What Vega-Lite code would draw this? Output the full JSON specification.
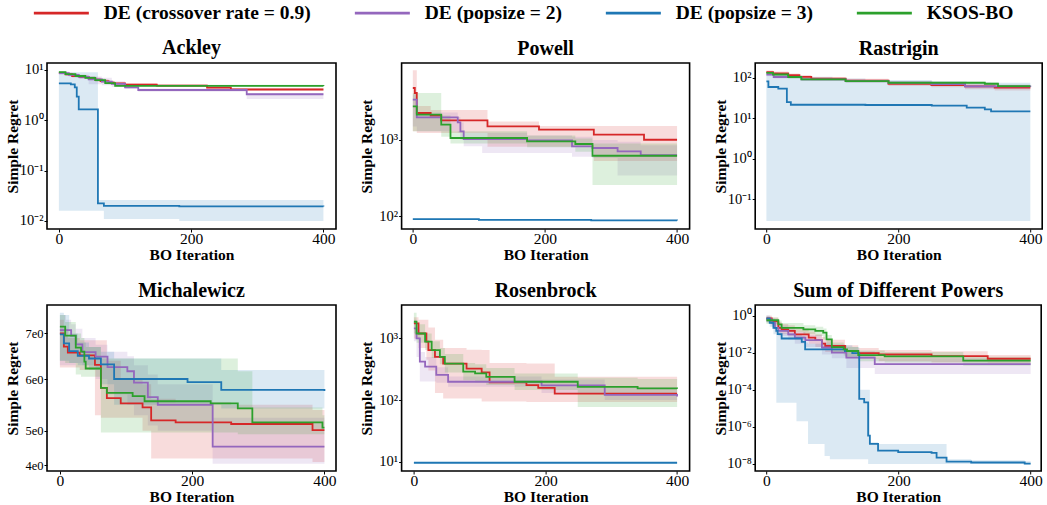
{
"$schema": "https://vega.github.io/schema/vega-lite/v6.json",
"padding": {"left": 4, "top": 3, "right": 2, "bottom": 2},
"background": "white",
"datasets": {
"runs": [
{"f":"Ackley","s":"DE (crossover rate = 0.9)","x":0,"y":8.7,"lo":8.2,"hi":9.2},
{"f":"Ackley","s":"DE (crossover rate = 0.9)","x":10,"y":8.2,"lo":7.7,"hi":8.8},
{"f":"Ackley","s":"DE (crossover rate = 0.9)","x":20,"y":7.6,"lo":7.1,"hi":8.2},
{"f":"Ackley","s":"DE (crossover rate = 0.9)","x":32,"y":7.26,"lo":6.8,"hi":7.9},
{"f":"Ackley","s":"DE (crossover rate = 0.9)","x":45,"y":6.8,"lo":6.3,"hi":7.5},
{"f":"Ackley","s":"DE (crossover rate = 0.9)","x":55,"y":6.4,"lo":5.9,"hi":7.1},
{"f":"Ackley","s":"DE (crossover rate = 0.9)","x":63,"y":6.0,"lo":5.5,"hi":6.6},
{"f":"Ackley","s":"DE (crossover rate = 0.9)","x":75,"y":5.6,"lo":5.2,"hi":6.1},
{"f":"Ackley","s":"DE (crossover rate = 0.9)","x":83,"y":5.4,"lo":5.0,"hi":5.8},
{"f":"Ackley","s":"DE (crossover rate = 0.9)","x":100,"y":5.1,"lo":4.8,"hi":5.5},
{"f":"Ackley","s":"DE (crossover rate = 0.9)","x":148,"y":4.9,"lo":4.6,"hi":5.2},
{"f":"Ackley","s":"DE (crossover rate = 0.9)","x":224,"y":4.45,"lo":4.2,"hi":4.8},
{"f":"Ackley","s":"DE (crossover rate = 0.9)","x":260,"y":4.1,"lo":3.9,"hi":4.4},
{"f":"Ackley","s":"DE (crossover rate = 0.9)","x":400,"y":4.1,"lo":3.9,"hi":4.4},
{"f":"Ackley","s":"DE (popsize = 2)","x":0,"y":8.7,"lo":8.0,"hi":9.3},
{"f":"Ackley","s":"DE (popsize = 2)","x":15,"y":8.0,"lo":7.3,"hi":8.6},
{"f":"Ackley","s":"DE (popsize = 2)","x":30,"y":7.3,"lo":6.6,"hi":8.0},
{"f":"Ackley","s":"DE (popsize = 2)","x":45,"y":6.5,"lo":5.2,"hi":7.4},
{"f":"Ackley","s":"DE (popsize = 2)","x":65,"y":5.9,"lo":5.0,"hi":7.0},
{"f":"Ackley","s":"DE (popsize = 2)","x":80,"y":5.3,"lo":4.6,"hi":6.0},
{"f":"Ackley","s":"DE (popsize = 2)","x":100,"y":4.5,"lo":4.2,"hi":5.0},
{"f":"Ackley","s":"DE (popsize = 2)","x":120,"y":4.0,"lo":3.7,"hi":4.3},
{"f":"Ackley","s":"DE (popsize = 2)","x":284,"y":3.3,"lo":2.65,"hi":3.5},
{"f":"Ackley","s":"DE (popsize = 2)","x":400,"y":3.3,"lo":2.65,"hi":3.5},
{"f":"Ackley","s":"DE (popsize = 3)","x":0,"y":5.4,"lo":0.016,"hi":9.0},
{"f":"Ackley","s":"DE (popsize = 3)","x":18,"y":5.2,"lo":0.016,"hi":9.0},
{"f":"Ackley","s":"DE (popsize = 3)","x":24,"y":4.5,"lo":0.016,"hi":9.0},
{"f":"Ackley","s":"DE (popsize = 3)","x":27,"y":2.95,"lo":0.016,"hi":9.0},
{"f":"Ackley","s":"DE (popsize = 3)","x":30,"y":1.65,"lo":0.016,"hi":9.0},
{"f":"Ackley","s":"DE (popsize = 3)","x":59,"y":0.0224,"lo":0.016,"hi":0.026},
{"f":"Ackley","s":"DE (popsize = 3)","x":68,"y":0.0199,"lo":0.011,"hi":0.026},
{"f":"Ackley","s":"DE (popsize = 3)","x":182,"y":0.0195,"lo":0.01,"hi":0.026},
{"f":"Ackley","s":"DE (popsize = 3)","x":400,"y":0.0193,"lo":0.01,"hi":0.026},
{"f":"Ackley","s":"KSOS-BO","x":0,"y":9.1,"lo":8.6,"hi":9.6},
{"f":"Ackley","s":"KSOS-BO","x":10,"y":8.3,"lo":7.9,"hi":8.8},
{"f":"Ackley","s":"KSOS-BO","x":25,"y":7.6,"lo":7.2,"hi":8.0},
{"f":"Ackley","s":"KSOS-BO","x":40,"y":7.0,"lo":6.6,"hi":7.4},
{"f":"Ackley","s":"KSOS-BO","x":55,"y":6.3,"lo":5.9,"hi":6.8},
{"f":"Ackley","s":"KSOS-BO","x":70,"y":5.5,"lo":5.2,"hi":5.9},
{"f":"Ackley","s":"KSOS-BO","x":85,"y":4.85,"lo":4.65,"hi":5.1},
{"f":"Ackley","s":"KSOS-BO","x":400,"y":4.8,"lo":4.6,"hi":5.0},

{"f":"Powell","s":"DE (crossover rate = 0.9)","x":0,"y":4830,"lo":1300,"hi":8260},
{"f":"Powell","s":"DE (crossover rate = 0.9)","x":3,"y":4150,"lo":1300,"hi":8260},
{"f":"Powell","s":"DE (crossover rate = 0.9)","x":6,"y":2265,"lo":1235,"hi":2800},
{"f":"Powell","s":"DE (crossover rate = 0.9)","x":27,"y":2090,"lo":1235,"hi":2485},
{"f":"Powell","s":"DE (crossover rate = 0.9)","x":43,"y":1815,"lo":1235,"hi":2485},
{"f":"Powell","s":"DE (crossover rate = 0.9)","x":113,"y":1514,"lo":815,"hi":1750},
{"f":"Powell","s":"DE (crossover rate = 0.9)","x":191,"y":1367,"lo":815,"hi":1528},
{"f":"Powell","s":"DE (crossover rate = 0.9)","x":274,"y":1175,"lo":530,"hi":1528},
{"f":"Powell","s":"DE (crossover rate = 0.9)","x":350,"y":1008,"lo":530,"hi":1528},
{"f":"Powell","s":"DE (crossover rate = 0.9)","x":400,"y":1008,"lo":530,"hi":1528},
{"f":"Powell","s":"DE (popsize = 2)","x":0,"y":3390,"lo":1500,"hi":4000},
{"f":"Powell","s":"DE (popsize = 2)","x":6,"y":1990,"lo":1300,"hi":2300},
{"f":"Powell","s":"DE (popsize = 2)","x":68,"y":1710,"lo":1250,"hi":2000},
{"f":"Powell","s":"DE (popsize = 2)","x":72,"y":1300,"lo":1000,"hi":1700},
{"f":"Powell","s":"DE (popsize = 2)","x":77,"y":1030,"lo":830,"hi":1250},
{"f":"Powell","s":"DE (popsize = 2)","x":105,"y":1030,"lo":675,"hi":1250},
{"f":"Powell","s":"DE (popsize = 2)","x":173,"y":990,"lo":675,"hi":1150},
{"f":"Powell","s":"DE (popsize = 2)","x":241,"y":826,"lo":600,"hi":1100},
{"f":"Powell","s":"DE (popsize = 2)","x":272,"y":785,"lo":580,"hi":1000},
{"f":"Powell","s":"DE (popsize = 2)","x":310,"y":710,"lo":340,"hi":950},
{"f":"Powell","s":"DE (popsize = 2)","x":345,"y":630,"lo":340,"hi":850},
{"f":"Powell","s":"DE (popsize = 2)","x":400,"y":630,"lo":340,"hi":850},
{"f":"Powell","s":"DE (popsize = 3)","x":0,"y":91,"lo":89,"hi":93},
{"f":"Powell","s":"DE (popsize = 3)","x":100,"y":89,"lo":87,"hi":91},
{"f":"Powell","s":"DE (popsize = 3)","x":270,"y":87.5,"lo":86,"hi":89},
{"f":"Powell","s":"DE (popsize = 3)","x":400,"y":87,"lo":85.5,"hi":88.5},
{"f":"Powell","s":"KSOS-BO","x":0,"y":2775,"lo":1300,"hi":4150},
{"f":"Powell","s":"KSOS-BO","x":6,"y":2155,"lo":1300,"hi":4150},
{"f":"Powell","s":"KSOS-BO","x":43,"y":1590,"lo":1100,"hi":2100},
{"f":"Powell","s":"KSOS-BO","x":57,"y":1062,"lo":900,"hi":1300},
{"f":"Powell","s":"KSOS-BO","x":173,"y":961,"lo":800,"hi":1150},
{"f":"Powell","s":"KSOS-BO","x":246,"y":886,"lo":700,"hi":1050},
{"f":"Powell","s":"KSOS-BO","x":272,"y":621,"lo":255,"hi":900},
{"f":"Powell","s":"KSOS-BO","x":400,"y":621,"lo":255,"hi":900},

{"f":"Rastrigin","s":"DE (crossover rate = 0.9)","x":0,"y":138,"lo":125,"hi":150},
{"f":"Rastrigin","s":"DE (crossover rate = 0.9)","x":10,"y":128,"lo":115,"hi":142},
{"f":"Rastrigin","s":"DE (crossover rate = 0.9)","x":33,"y":115,"lo":103,"hi":127},
{"f":"Rastrigin","s":"DE (crossover rate = 0.9)","x":50,"y":105,"lo":95,"hi":116},
{"f":"Rastrigin","s":"DE (crossover rate = 0.9)","x":68,"y":94.5,"lo":86,"hi":104},
{"f":"Rastrigin","s":"DE (crossover rate = 0.9)","x":120,"y":85,"lo":76,"hi":94},
{"f":"Rastrigin","s":"DE (crossover rate = 0.9)","x":185,"y":71,"lo":62,"hi":80},
{"f":"Rastrigin","s":"DE (crossover rate = 0.9)","x":250,"y":66,"lo":58,"hi":74},
{"f":"Rastrigin","s":"DE (crossover rate = 0.9)","x":301,"y":61,"lo":52,"hi":70},
{"f":"Rastrigin","s":"DE (crossover rate = 0.9)","x":346,"y":56.6,"lo":48,"hi":64},
{"f":"Rastrigin","s":"DE (crossover rate = 0.9)","x":400,"y":56.6,"lo":48,"hi":64},
{"f":"Rastrigin","s":"DE (popsize = 2)","x":0,"y":118.7,"lo":108,"hi":130},
{"f":"Rastrigin","s":"DE (popsize = 2)","x":11,"y":104,"lo":95,"hi":115},
{"f":"Rastrigin","s":"DE (popsize = 2)","x":53,"y":91,"lo":84,"hi":99},
{"f":"Rastrigin","s":"DE (popsize = 2)","x":120,"y":82,"lo":75,"hi":90},
{"f":"Rastrigin","s":"DE (popsize = 2)","x":185,"y":75,"lo":69,"hi":82},
{"f":"Rastrigin","s":"DE (popsize = 2)","x":250,"y":70,"lo":64,"hi":77},
{"f":"Rastrigin","s":"DE (popsize = 2)","x":301,"y":61,"lo":55,"hi":67},
{"f":"Rastrigin","s":"DE (popsize = 2)","x":400,"y":59,"lo":53,"hi":65},
{"f":"Rastrigin","s":"DE (popsize = 3)","x":0,"y":81.5,"lo":0.029,"hi":140},
{"f":"Rastrigin","s":"DE (popsize = 3)","x":3,"y":59,"lo":0.029,"hi":135},
{"f":"Rastrigin","s":"DE (popsize = 3)","x":18,"y":53.5,"lo":0.029,"hi":120},
{"f":"Rastrigin","s":"DE (popsize = 3)","x":31,"y":25,"lo":0.029,"hi":110},
{"f":"Rastrigin","s":"DE (popsize = 3)","x":37,"y":21.5,"lo":0.029,"hi":105},
{"f":"Rastrigin","s":"DE (popsize = 3)","x":100,"y":21.5,"lo":0.029,"hi":95},
{"f":"Rastrigin","s":"DE (popsize = 3)","x":150,"y":21.2,"lo":0.029,"hi":88},
{"f":"Rastrigin","s":"DE (popsize = 3)","x":250.6,"y":20.4,"lo":0.029,"hi":82},
{"f":"Rastrigin","s":"DE (popsize = 3)","x":303.6,"y":18.2,"lo":0.029,"hi":78},
{"f":"Rastrigin","s":"DE (popsize = 3)","x":331,"y":16.6,"lo":0.029,"hi":76},
{"f":"Rastrigin","s":"DE (popsize = 3)","x":340.5,"y":14.8,"lo":0.029,"hi":75},
{"f":"Rastrigin","s":"DE (popsize = 3)","x":400,"y":14.8,"lo":0.029,"hi":75},
{"f":"Rastrigin","s":"KSOS-BO","x":0,"y":131,"lo":120,"hi":142},
{"f":"Rastrigin","s":"KSOS-BO","x":10,"y":120,"lo":110,"hi":130},
{"f":"Rastrigin","s":"KSOS-BO","x":33,"y":104,"lo":96,"hi":112},
{"f":"Rastrigin","s":"KSOS-BO","x":53,"y":91,"lo":85,"hi":98},
{"f":"Rastrigin","s":"KSOS-BO","x":120,"y":82,"lo":77,"hi":88},
{"f":"Rastrigin","s":"KSOS-BO","x":185,"y":75,"lo":70,"hi":80},
{"f":"Rastrigin","s":"KSOS-BO","x":331,"y":71,"lo":66,"hi":76},
{"f":"Rastrigin","s":"KSOS-BO","x":351,"y":62,"lo":57,"hi":67},
{"f":"Rastrigin","s":"KSOS-BO","x":400,"y":62,"lo":57,"hi":67},

{"f":"Michalewicz","s":"DE (crossover rate = 0.9)","x":0,"y":7.0,"lo":6.25,"hi":7.3},
{"f":"Michalewicz","s":"DE (crossover rate = 0.9)","x":6,"y":6.71,"lo":6.25,"hi":7.1},
{"f":"Michalewicz","s":"DE (crossover rate = 0.9)","x":12,"y":6.58,"lo":6.25,"hi":6.9},
{"f":"Michalewicz","s":"DE (crossover rate = 0.9)","x":30,"y":6.52,"lo":6.2,"hi":6.85},
{"f":"Michalewicz","s":"DE (crossover rate = 0.9)","x":53,"y":6.31,"lo":5.3,"hi":6.85},
{"f":"Michalewicz","s":"DE (crossover rate = 0.9)","x":62,"y":5.83,"lo":5.25,"hi":6.85},
{"f":"Michalewicz","s":"DE (crossover rate = 0.9)","x":71,"y":5.63,"lo":5.25,"hi":6.4},
{"f":"Michalewicz","s":"DE (crossover rate = 0.9)","x":92,"y":5.53,"lo":5.25,"hi":6.0},
{"f":"Michalewicz","s":"DE (crossover rate = 0.9)","x":125,"y":5.45,"lo":5.0,"hi":5.9},
{"f":"Michalewicz","s":"DE (crossover rate = 0.9)","x":138,"y":5.2,"lo":4.2,"hi":5.62},
{"f":"Michalewicz","s":"DE (crossover rate = 0.9)","x":175,"y":5.16,"lo":4.2,"hi":5.55},
{"f":"Michalewicz","s":"DE (crossover rate = 0.9)","x":259,"y":5.13,"lo":4.2,"hi":5.5},
{"f":"Michalewicz","s":"DE (crossover rate = 0.9)","x":382,"y":5.01,"lo":4.1,"hi":5.4},
{"f":"Michalewicz","s":"DE (crossover rate = 0.9)","x":400,"y":5.01,"lo":4.1,"hi":5.4},
{"f":"Michalewicz","s":"DE (popsize = 2)","x":0,"y":7.07,"lo":6.3,"hi":7.4},
{"f":"Michalewicz","s":"DE (popsize = 2)","x":9,"y":7.07,"lo":6.3,"hi":7.3},
{"f":"Michalewicz","s":"DE (popsize = 2)","x":17,"y":6.95,"lo":6.3,"hi":7.2},
{"f":"Michalewicz","s":"DE (popsize = 2)","x":24,"y":6.76,"lo":6.35,"hi":7.1},
{"f":"Michalewicz","s":"DE (popsize = 2)","x":34,"y":6.59,"lo":6.3,"hi":6.9},
{"f":"Michalewicz","s":"DE (popsize = 2)","x":54,"y":6.49,"lo":6.0,"hi":6.75},
{"f":"Michalewicz","s":"DE (popsize = 2)","x":72,"y":6.26,"lo":5.7,"hi":6.6},
{"f":"Michalewicz","s":"DE (popsize = 2)","x":102,"y":6.17,"lo":5.5,"hi":6.5},
{"f":"Michalewicz","s":"DE (popsize = 2)","x":112,"y":5.93,"lo":5.3,"hi":6.3},
{"f":"Michalewicz","s":"DE (popsize = 2)","x":133,"y":5.65,"lo":5.1,"hi":6.1},
{"f":"Michalewicz","s":"DE (popsize = 2)","x":148,"y":5.5,"lo":5.0,"hi":5.9},
{"f":"Michalewicz","s":"DE (popsize = 2)","x":231,"y":4.54,"lo":4.05,"hi":5.25},
{"f":"Michalewicz","s":"DE (popsize = 2)","x":400,"y":4.54,"lo":4.05,"hi":5.25},
{"f":"Michalewicz","s":"DE (popsize = 3)","x":0,"y":6.98,"lo":6.4,"hi":7.45},
{"f":"Michalewicz","s":"DE (popsize = 3)","x":6,"y":6.78,"lo":6.4,"hi":7.4},
{"f":"Michalewicz","s":"DE (popsize = 3)","x":14,"y":6.61,"lo":6.35,"hi":7.0},
{"f":"Michalewicz","s":"DE (popsize = 3)","x":27,"y":6.51,"lo":6.3,"hi":6.8},
{"f":"Michalewicz","s":"DE (popsize = 3)","x":44,"y":6.45,"lo":6.2,"hi":6.7},
{"f":"Michalewicz","s":"DE (popsize = 3)","x":62,"y":6.32,"lo":5.9,"hi":6.6},
{"f":"Michalewicz","s":"DE (popsize = 3)","x":82,"y":6.0,"lo":5.5,"hi":6.45},
{"f":"Michalewicz","s":"DE (popsize = 3)","x":193,"y":5.94,"lo":5.5,"hi":6.45},
{"f":"Michalewicz","s":"DE (popsize = 3)","x":244,"y":5.79,"lo":5.43,"hi":6.2},
{"f":"Michalewicz","s":"DE (popsize = 3)","x":400,"y":5.77,"lo":5.43,"hi":6.2},
{"f":"Michalewicz","s":"KSOS-BO","x":0,"y":7.15,"lo":6.4,"hi":7.4},
{"f":"Michalewicz","s":"KSOS-BO","x":8,"y":6.95,"lo":6.35,"hi":7.25},
{"f":"Michalewicz","s":"KSOS-BO","x":24,"y":6.69,"lo":6.1,"hi":7.0},
{"f":"Michalewicz","s":"KSOS-BO","x":32,"y":6.6,"lo":6.05,"hi":6.9},
{"f":"Michalewicz","s":"KSOS-BO","x":37,"y":6.38,"lo":6.05,"hi":6.8},
{"f":"Michalewicz","s":"KSOS-BO","x":39,"y":6.23,"lo":6.05,"hi":6.7},
{"f":"Michalewicz","s":"KSOS-BO","x":62,"y":5.83,"lo":4.95,"hi":6.45},
{"f":"Michalewicz","s":"KSOS-BO","x":71,"y":5.73,"lo":4.95,"hi":6.45},
{"f":"Michalewicz","s":"KSOS-BO","x":110,"y":5.67,"lo":4.95,"hi":6.45},
{"f":"Michalewicz","s":"KSOS-BO","x":128,"y":5.57,"lo":4.95,"hi":6.45},
{"f":"Michalewicz","s":"KSOS-BO","x":228,"y":5.53,"lo":4.95,"hi":6.45},
{"f":"Michalewicz","s":"KSOS-BO","x":269,"y":5.43,"lo":4.9,"hi":6.17},
{"f":"Michalewicz","s":"KSOS-BO","x":291,"y":5.16,"lo":4.9,"hi":5.45},
{"f":"Michalewicz","s":"KSOS-BO","x":397,"y":5.06,"lo":4.9,"hi":5.3},
{"f":"Michalewicz","s":"KSOS-BO","x":400,"y":5.06,"lo":4.9,"hi":5.3},

{"f":"Rosenbrock","s":"DE (crossover rate = 0.9)","x":0,"y":1750,"lo":1000,"hi":2200},
{"f":"Rosenbrock","s":"DE (crossover rate = 0.9)","x":7,"y":1200,"lo":700,"hi":2000},
{"f":"Rosenbrock","s":"DE (crossover rate = 0.9)","x":19,"y":883,"lo":450,"hi":2000},
{"f":"Rosenbrock","s":"DE (crossover rate = 0.9)","x":22,"y":645,"lo":300,"hi":1500},
{"f":"Rosenbrock","s":"DE (crossover rate = 0.9)","x":32,"y":500,"lo":130,"hi":950},
{"f":"Rosenbrock","s":"DE (crossover rate = 0.9)","x":44.5,"y":390,"lo":106,"hi":700},
{"f":"Rosenbrock","s":"DE (crossover rate = 0.9)","x":80,"y":324,"lo":106,"hi":655},
{"f":"Rosenbrock","s":"DE (crossover rate = 0.9)","x":103,"y":280,"lo":95,"hi":650},
{"f":"Rosenbrock","s":"DE (crossover rate = 0.9)","x":115,"y":194,"lo":95,"hi":400},
{"f":"Rosenbrock","s":"DE (crossover rate = 0.9)","x":171,"y":175,"lo":93,"hi":390},
{"f":"Rosenbrock","s":"DE (crossover rate = 0.9)","x":189,"y":158,"lo":93,"hi":390},
{"f":"Rosenbrock","s":"DE (crossover rate = 0.9)","x":214,"y":127,"lo":93,"hi":238},
{"f":"Rosenbrock","s":"DE (crossover rate = 0.9)","x":400,"y":127,"lo":93,"hi":238},
{"f":"Rosenbrock","s":"DE (popsize = 2)","x":0,"y":1450,"lo":900,"hi":2000},
{"f":"Rosenbrock","s":"DE (popsize = 2)","x":4,"y":1000,"lo":500,"hi":1400},
{"f":"Rosenbrock","s":"DE (popsize = 2)","x":9,"y":420,"lo":200,"hi":600},
{"f":"Rosenbrock","s":"DE (popsize = 2)","x":17,"y":347,"lo":200,"hi":500},
{"f":"Rosenbrock","s":"DE (popsize = 2)","x":34,"y":256,"lo":190,"hi":340},
{"f":"Rosenbrock","s":"DE (popsize = 2)","x":52,"y":198,"lo":165,"hi":240},
{"f":"Rosenbrock","s":"DE (popsize = 2)","x":194,"y":173,"lo":130,"hi":215},
{"f":"Rosenbrock","s":"DE (popsize = 2)","x":290,"y":121,"lo":100,"hi":160},
{"f":"Rosenbrock","s":"DE (popsize = 2)","x":400,"y":114,"lo":95,"hi":150},
{"f":"Rosenbrock","s":"DE (popsize = 3)","x":0,"y":9.6,"lo":9.4,"hi":9.8},
{"f":"Rosenbrock","s":"DE (popsize = 3)","x":400,"y":9.6,"lo":9.4,"hi":9.8},
{"f":"Rosenbrock","s":"KSOS-BO","x":0,"y":1860,"lo":1200,"hi":2600},
{"f":"Rosenbrock","s":"KSOS-BO","x":4,"y":1200,"lo":850,"hi":1700},
{"f":"Rosenbrock","s":"KSOS-BO","x":17,"y":883,"lo":650,"hi":1200},
{"f":"Rosenbrock","s":"KSOS-BO","x":27,"y":645,"lo":480,"hi":900},
{"f":"Rosenbrock","s":"KSOS-BO","x":39.5,"y":500,"lo":380,"hi":700},
{"f":"Rosenbrock","s":"KSOS-BO","x":47,"y":390,"lo":280,"hi":560},
{"f":"Rosenbrock","s":"KSOS-BO","x":75,"y":288,"lo":210,"hi":400},
{"f":"Rosenbrock","s":"KSOS-BO","x":93,"y":270,"lo":195,"hi":380},
{"f":"Rosenbrock","s":"KSOS-BO","x":110,"y":238,"lo":175,"hi":330},
{"f":"Rosenbrock","s":"KSOS-BO","x":153,"y":198,"lo":145,"hi":270},
{"f":"Rosenbrock","s":"KSOS-BO","x":249,"y":164,"lo":77,"hi":230},
{"f":"Rosenbrock","s":"KSOS-BO","x":340,"y":154,"lo":77,"hi":220},
{"f":"Rosenbrock","s":"KSOS-BO","x":400,"y":152,"lo":77,"hi":220},

{"f":"Sum of Different Powers","s":"DE (crossover rate = 0.9)","x":0,"y":0.71,"lo":0.45,"hi":1.0},
{"f":"Sum of Different Powers","s":"DE (crossover rate = 0.9)","x":8,"y":0.49,"lo":0.3,"hi":0.8},
{"f":"Sum of Different Powers","s":"DE (crossover rate = 0.9)","x":18,"y":0.22,"lo":0.12,"hi":0.45},
{"f":"Sum of Different Powers","s":"DE (crossover rate = 0.9)","x":23,"y":0.18,"lo":0.1,"hi":0.35},
{"f":"Sum of Different Powers","s":"DE (crossover rate = 0.9)","x":33,"y":0.15,"lo":0.08,"hi":0.3},
{"f":"Sum of Different Powers","s":"DE (crossover rate = 0.9)","x":43,"y":0.098,"lo":0.05,"hi":0.2},
{"f":"Sum of Different Powers","s":"DE (crossover rate = 0.9)","x":64,"y":0.065,"lo":0.03,"hi":0.14},
{"f":"Sum of Different Powers","s":"DE (crossover rate = 0.9)","x":74,"y":0.047,"lo":0.02,"hi":0.1},
{"f":"Sum of Different Powers","s":"DE (crossover rate = 0.9)","x":84,"y":0.031,"lo":0.014,"hi":0.07},
{"f":"Sum of Different Powers","s":"DE (crossover rate = 0.9)","x":89,"y":0.023,"lo":0.011,"hi":0.05},
{"f":"Sum of Different Powers","s":"DE (crossover rate = 0.9)","x":119,"y":0.0123,"lo":0.006,"hi":0.025},
{"f":"Sum of Different Powers","s":"DE (crossover rate = 0.9)","x":139,"y":0.0095,"lo":0.0045,"hi":0.018},
{"f":"Sum of Different Powers","s":"DE (crossover rate = 0.9)","x":170,"y":0.008,"lo":0.0035,"hi":0.014},
{"f":"Sum of Different Powers","s":"DE (crossover rate = 0.9)","x":250,"y":0.0065,"lo":0.003,"hi":0.012},
{"f":"Sum of Different Powers","s":"DE (crossover rate = 0.9)","x":335,"y":0.0047,"lo":0.0027,"hi":0.0075},
{"f":"Sum of Different Powers","s":"DE (crossover rate = 0.9)","x":400,"y":0.0047,"lo":0.0027,"hi":0.0075},
{"f":"Sum of Different Powers","s":"DE (popsize = 2)","x":0,"y":0.63,"lo":0.4,"hi":0.9},
{"f":"Sum of Different Powers","s":"DE (popsize = 2)","x":8,"y":0.41,"lo":0.25,"hi":0.7},
{"f":"Sum of Different Powers","s":"DE (popsize = 2)","x":13,"y":0.22,"lo":0.12,"hi":0.4},
{"f":"Sum of Different Powers","s":"DE (popsize = 2)","x":18,"y":0.15,"lo":0.08,"hi":0.3},
{"f":"Sum of Different Powers","s":"DE (popsize = 2)","x":33,"y":0.098,"lo":0.05,"hi":0.2},
{"f":"Sum of Different Powers","s":"DE (popsize = 2)","x":43,"y":0.065,"lo":0.03,"hi":0.13},
{"f":"Sum of Different Powers","s":"DE (popsize = 2)","x":59,"y":0.047,"lo":0.02,"hi":0.09},
{"f":"Sum of Different Powers","s":"DE (popsize = 2)","x":84,"y":0.019,"lo":0.008,"hi":0.04},
{"f":"Sum of Different Powers","s":"DE (popsize = 2)","x":99,"y":0.01,"lo":0.005,"hi":0.02},
{"f":"Sum of Different Powers","s":"DE (popsize = 2)","x":121,"y":0.0054,"lo":0.0015,"hi":0.012},
{"f":"Sum of Different Powers","s":"DE (popsize = 2)","x":164,"y":0.0024,"lo":0.0007,"hi":0.005},
{"f":"Sum of Different Powers","s":"DE (popsize = 2)","x":400,"y":0.0024,"lo":0.0007,"hi":0.005},
{"f":"Sum of Different Powers","s":"DE (popsize = 3)","x":0,"y":0.71,"lo":0.45,"hi":1.0},
{"f":"Sum of Different Powers","s":"DE (popsize = 3)","x":5,"y":0.41,"lo":0.25,"hi":0.7},
{"f":"Sum of Different Powers","s":"DE (popsize = 3)","x":10.6,"y":0.22,"lo":0.1,"hi":0.4},
{"f":"Sum of Different Powers","s":"DE (popsize = 3)","x":15,"y":0.15,"lo":0.00002,"hi":0.3},
{"f":"Sum of Different Powers","s":"DE (popsize = 3)","x":17,"y":0.1,"lo":0.00002,"hi":0.25},
{"f":"Sum of Different Powers","s":"DE (popsize = 3)","x":23,"y":0.058,"lo":0.00002,"hi":0.12},
{"f":"Sum of Different Powers","s":"DE (popsize = 3)","x":45.5,"y":0.058,"lo":0.000002,"hi":0.1},
{"f":"Sum of Different Powers","s":"DE (popsize = 3)","x":53.5,"y":0.038,"lo":0.000002,"hi":0.08},
{"f":"Sum of Different Powers","s":"DE (popsize = 3)","x":58.6,"y":0.015,"lo":0.000002,"hi":0.035},
{"f":"Sum of Different Powers","s":"DE (popsize = 3)","x":63,"y":0.015,"lo":1.2e-7,"hi":0.03},
{"f":"Sum of Different Powers","s":"DE (popsize = 3)","x":88,"y":0.015,"lo":2.7e-8,"hi":0.03},
{"f":"Sum of Different Powers","s":"DE (popsize = 3)","x":96,"y":0.015,"lo":1.8e-8,"hi":0.028},
{"f":"Sum of Different Powers","s":"DE (popsize = 3)","x":119,"y":0.0123,"lo":1.8e-8,"hi":0.025},
{"f":"Sum of Different Powers","s":"DE (popsize = 3)","x":130,"y":0.0095,"lo":1.8e-8,"hi":0.02},
{"f":"Sum of Different Powers","s":"DE (popsize = 3)","x":140.5,"y":3.2e-5,"lo":1.8e-8,"hi":1e-4},
{"f":"Sum of Different Powers","s":"DE (popsize = 3)","x":148,"y":2.1e-5,"lo":1.8e-8,"hi":1e-4},
{"f":"Sum of Different Powers","s":"DE (popsize = 3)","x":154,"y":3.4e-7,"lo":1e-8,"hi":1e-4},
{"f":"Sum of Different Powers","s":"DE (popsize = 3)","x":156.6,"y":1.2e-7,"lo":1e-8,"hi":1.5e-7},
{"f":"Sum of Different Powers","s":"DE (popsize = 3)","x":169,"y":5.2e-8,"lo":1e-8,"hi":1.2e-7},
{"f":"Sum of Different Powers","s":"DE (popsize = 3)","x":199.5,"y":4.4e-8,"lo":1e-8,"hi":1.2e-7},
{"f":"Sum of Different Powers","s":"DE (popsize = 3)","x":250,"y":4.0e-8,"lo":1e-8,"hi":1.2e-7},
{"f":"Sum of Different Powers","s":"DE (popsize = 3)","x":257.6,"y":2.2e-8,"lo":1e-8,"hi":1.2e-7},
{"f":"Sum of Different Powers","s":"DE (popsize = 3)","x":272.7,"y":1.35e-8,"lo":1e-8,"hi":1.8e-8},
{"f":"Sum of Different Powers","s":"DE (popsize = 3)","x":310,"y":1.2e-8,"lo":1e-8,"hi":1.6e-8},
{"f":"Sum of Different Powers","s":"DE (popsize = 3)","x":391,"y":1.05e-8,"lo":9.5e-9,"hi":1.4e-8},
{"f":"Sum of Different Powers","s":"DE (popsize = 3)","x":400,"y":1.05e-8,"lo":9.5e-9,"hi":1.4e-8},
{"f":"Sum of Different Powers","s":"KSOS-BO","x":0,"y":0.56,"lo":0.35,"hi":0.8},
{"f":"Sum of Different Powers","s":"KSOS-BO","x":18,"y":0.34,"lo":0.2,"hi":0.55},
{"f":"Sum of Different Powers","s":"KSOS-BO","x":23,"y":0.22,"lo":0.13,"hi":0.4},
{"f":"Sum of Different Powers","s":"KSOS-BO","x":56,"y":0.18,"lo":0.1,"hi":0.3},
{"f":"Sum of Different Powers","s":"KSOS-BO","x":74,"y":0.15,"lo":0.08,"hi":0.25},
{"f":"Sum of Different Powers","s":"KSOS-BO","x":86,"y":0.12,"lo":0.05,"hi":0.2},
{"f":"Sum of Different Powers","s":"KSOS-BO","x":91,"y":0.052,"lo":0.025,"hi":0.09},
{"f":"Sum of Different Powers","s":"KSOS-BO","x":99,"y":0.02,"lo":0.01,"hi":0.035},
{"f":"Sum of Different Powers","s":"KSOS-BO","x":117,"y":0.015,"lo":0.007,"hi":0.025},
{"f":"Sum of Different Powers","s":"KSOS-BO","x":122,"y":0.0123,"lo":0.006,"hi":0.02},
{"f":"Sum of Different Powers","s":"KSOS-BO","x":139,"y":0.0074,"lo":0.0035,"hi":0.013},
{"f":"Sum of Different Powers","s":"KSOS-BO","x":179,"y":0.0063,"lo":0.003,"hi":0.011},
{"f":"Sum of Different Powers","s":"KSOS-BO","x":298,"y":0.0037,"lo":0.002,"hi":0.006},
{"f":"Sum of Different Powers","s":"KSOS-BO","x":400,"y":0.0037,"lo":0.002,"hi":0.006}
]
},
"data": {"name": "runs"},
"spacing": 16,
"vconcat": [
{"hconcat": [
{"width": 289, "height": 166, "title": {"text": "Ackley"},
 "transform": [{"filter": "datum.f === 'Ackley'"}],
 "encoding": {
  "x": {"field": "x", "type": "quantitative", "scale": {"domain": [-18, 419], "nice": false, "zero": false}, "axis": {"values": [0, 200, 400], "title": "BO Iteration"}},
  "color": {"field": "s", "type": "nominal", "scale": {"domain": ["DE (crossover rate = 0.9)", "DE (popsize = 2)", "DE (popsize = 3)", "KSOS-BO"], "range": ["#d62728", "#9467bd", "#1f77b4", "#2ca02c"]}, "legend": {"orient": "none", "legendX": 4.6, "legendY": -60, "direction": "horizontal", "columns": 4, "title": null, "symbolType": "M-5,0H5", "symbolSize": 121, "symbolStrokeWidth": 2.8, "symbolOpacity": 1, "labelFont": "Liberation Serif", "labelFontSize": 19.5, "labelFontWeight": "bold", "labelColor": "black", "labelOffset": 32.6, "columnPadding": 37, "labelLimit": 400}}
 },
 "layer": [
  {"mark": {"type": "area", "interpolate": "step-after", "fillOpacity": 0.16}, "encoding": {"y": {"field": "lo", "type": "quantitative", "scale": {"type": "log", "domain": [0.00693, 13.77], "nice": false}, "axis": {"values": [10, 1, 0.1, 0.01], "title": "Simple Regret", "labelExpr": "'10' + replace(replace(replace(replace(replace(replace(replace(replace('' + round(log(datum.value) / LN10), '-', '⁻'), '0', '⁰'), '1', '¹'), '2', '²'), '3', '³'), '4', '⁴'), '6', '⁶'), '8', '⁸')"}}, "y2": {"field": "hi"}}},
  {"mark": {"type": "line", "interpolate": "step-after", "strokeWidth": 1.8}, "encoding": {"y": {"field": "y", "type": "quantitative", "scale": {"type": "log", "domain": [0.00693, 13.77], "nice": false}, "axis": {"values": [10, 1, 0.1, 0.01], "title": "Simple Regret", "labelExpr": "'10' + replace(replace(replace(replace(replace(replace(replace(replace('' + round(log(datum.value) / LN10), '-', '⁻'), '0', '⁰'), '1', '¹'), '2', '²'), '3', '³'), '4', '⁴'), '6', '⁶'), '8', '⁸')"}}}}
 ]},
{"width": 288, "height": 166, "title": {"text": "Powell"},
 "transform": [{"filter": "datum.f === 'Powell'"}],
 "encoding": {
  "x": {"field": "x", "type": "quantitative", "scale": {"domain": [-17, 419], "nice": false, "zero": false}, "axis": {"values": [0, 200, 400], "title": "BO Iteration"}},
  "color": {"field": "s", "type": "nominal", "scale": {"domain": ["DE (crossover rate = 0.9)", "DE (popsize = 2)", "DE (popsize = 3)", "KSOS-BO"], "range": ["#d62728", "#9467bd", "#1f77b4", "#2ca02c"]}, "legend": {"orient": "none", "legendX": 4.6, "legendY": -60, "direction": "horizontal", "columns": 4, "title": null, "symbolType": "M-5,0H5", "symbolSize": 121, "symbolStrokeWidth": 2.8, "symbolOpacity": 1, "labelFont": "Liberation Serif", "labelFontSize": 19.5, "labelFontWeight": "bold", "labelColor": "black", "labelOffset": 32.6, "columnPadding": 37, "labelLimit": 400}}
 },
 "layer": [
  {"mark": {"type": "area", "interpolate": "step-after", "fillOpacity": 0.16}, "encoding": {"y": {"field": "lo", "type": "quantitative", "scale": {"type": "log", "domain": [67.5, 10300], "nice": false}, "axis": {"values": [1000, 100], "title": "Simple Regret", "labelExpr": "'10' + replace(replace(replace(replace(replace(replace(replace(replace('' + round(log(datum.value) / LN10), '-', '⁻'), '0', '⁰'), '1', '¹'), '2', '²'), '3', '³'), '4', '⁴'), '6', '⁶'), '8', '⁸')"}}, "y2": {"field": "hi"}}},
  {"mark": {"type": "line", "interpolate": "step-after", "strokeWidth": 1.8}, "encoding": {"y": {"field": "y", "type": "quantitative", "scale": {"type": "log", "domain": [67.5, 10300], "nice": false}, "axis": {"values": [1000, 100], "title": "Simple Regret", "labelExpr": "'10' + replace(replace(replace(replace(replace(replace(replace(replace('' + round(log(datum.value) / LN10), '-', '⁻'), '0', '⁰'), '1', '¹'), '2', '²'), '3', '³'), '4', '⁴'), '6', '⁶'), '8', '⁸')"}}}}
 ]},
{"width": 287, "height": 166, "title": {"text": "Rastrigin"},
 "transform": [{"filter": "datum.f === 'Rastrigin'"}],
 "encoding": {
  "x": {"field": "x", "type": "quantitative", "scale": {"domain": [-17, 418], "nice": false, "zero": false}, "axis": {"values": [0, 200, 400], "title": "BO Iteration"}},
  "color": {"field": "s", "type": "nominal", "scale": {"domain": ["DE (crossover rate = 0.9)", "DE (popsize = 2)", "DE (popsize = 3)", "KSOS-BO"], "range": ["#d62728", "#9467bd", "#1f77b4", "#2ca02c"]}, "legend": {"orient": "none", "legendX": 4.6, "legendY": -60, "direction": "horizontal", "columns": 4, "title": null, "symbolType": "M-5,0H5", "symbolSize": 121, "symbolStrokeWidth": 2.8, "symbolOpacity": 1, "labelFont": "Liberation Serif", "labelFontSize": 19.5, "labelFontWeight": "bold", "labelColor": "black", "labelOffset": 32.6, "columnPadding": 37, "labelLimit": 400}}
 },
 "layer": [
  {"mark": {"type": "area", "interpolate": "step-after", "fillOpacity": 0.16}, "encoding": {"y": {"field": "lo", "type": "quantitative", "scale": {"type": "log", "domain": [0.01837, 230.7], "nice": false}, "axis": {"values": [100, 10, 1, 0.1], "title": "Simple Regret", "labelExpr": "'10' + replace(replace(replace(replace(replace(replace(replace(replace('' + round(log(datum.value) / LN10), '-', '⁻'), '0', '⁰'), '1', '¹'), '2', '²'), '3', '³'), '4', '⁴'), '6', '⁶'), '8', '⁸')"}}, "y2": {"field": "hi"}}},
  {"mark": {"type": "line", "interpolate": "step-after", "strokeWidth": 1.8}, "encoding": {"y": {"field": "y", "type": "quantitative", "scale": {"type": "log", "domain": [0.01837, 230.7], "nice": false}, "axis": {"values": [100, 10, 1, 0.1], "title": "Simple Regret", "labelExpr": "'10' + replace(replace(replace(replace(replace(replace(replace(replace('' + round(log(datum.value) / LN10), '-', '⁻'), '0', '⁰'), '1', '¹'), '2', '²'), '3', '³'), '4', '⁴'), '6', '⁶'), '8', '⁸')"}}}}
 ]}
], "spacing": 65.6, "bounds": "flush"},
{"hconcat": [
{"width": 289, "height": 166, "title": {"text": "Michalewicz"},
 "transform": [{"filter": "datum.f === 'Michalewicz'"}],
 "encoding": {
  "x": {"field": "x", "type": "quantitative", "scale": {"domain": [-19.5, 417.5], "nice": false, "zero": false}, "axis": {"values": [0, 200, 400], "title": "BO Iteration"}},
  "color": {"field": "s", "type": "nominal", "scale": {"domain": ["DE (crossover rate = 0.9)", "DE (popsize = 2)", "DE (popsize = 3)", "KSOS-BO"], "range": ["#d62728", "#9467bd", "#1f77b4", "#2ca02c"]}, "legend": {"orient": "none", "legendX": 4.6, "legendY": -60, "direction": "horizontal", "columns": 4, "title": null, "symbolType": "M-5,0H5", "symbolSize": 121, "symbolStrokeWidth": 2.8, "symbolOpacity": 1, "labelFont": "Liberation Serif", "labelFontSize": 19.5, "labelFontWeight": "bold", "labelColor": "black", "labelOffset": 32.6, "columnPadding": 37, "labelLimit": 400}}
 },
 "layer": [
  {"mark": {"type": "area", "interpolate": "step-after", "fillOpacity": 0.16}, "encoding": {"y": {"field": "lo", "type": "quantitative", "scale": {"type": "linear", "domain": [3.84, 4, 5, 6, 7, 7.62], "range": [166, 160.4, 125.7, 74, 28.4, 0], "nice": false, "zero": false}, "axis": {"values": [4, 5, 6, 7], "title": "Simple Regret", "labelFontSize": 12.5, "labelExpr": "datum.value + 'e0'"}}, "y2": {"field": "hi"}}},
  {"mark": {"type": "line", "interpolate": "step-after", "strokeWidth": 1.8}, "encoding": {"y": {"field": "y", "type": "quantitative", "scale": {"type": "linear", "domain": [3.84, 4, 5, 6, 7, 7.62], "range": [166, 160.4, 125.7, 74, 28.4, 0], "nice": false, "zero": false}, "axis": {"values": [4, 5, 6, 7], "title": "Simple Regret", "labelFontSize": 12.5, "labelExpr": "datum.value + 'e0'"}}}}
 ]},
{"width": 288, "height": 166, "title": {"text": "Rosenbrock"},
 "transform": [{"filter": "datum.f === 'Rosenbrock'"}],
 "encoding": {
  "x": {"field": "x", "type": "quantitative", "scale": {"domain": [-18.7, 419], "nice": false, "zero": false}, "axis": {"values": [0, 200, 400], "title": "BO Iteration"}},
  "color": {"field": "s", "type": "nominal", "scale": {"domain": ["DE (crossover rate = 0.9)", "DE (popsize = 2)", "DE (popsize = 3)", "KSOS-BO"], "range": ["#d62728", "#9467bd", "#1f77b4", "#2ca02c"]}, "legend": {"orient": "none", "legendX": 4.6, "legendY": -60, "direction": "horizontal", "columns": 4, "title": null, "symbolType": "M-5,0H5", "symbolSize": 121, "symbolStrokeWidth": 2.8, "symbolOpacity": 1, "labelFont": "Liberation Serif", "labelFontSize": 19.5, "labelFontWeight": "bold", "labelColor": "black", "labelOffset": 32.6, "columnPadding": 37, "labelLimit": 400}}
 },
 "layer": [
  {"mark": {"type": "area", "interpolate": "step-after", "fillOpacity": 0.16}, "encoding": {"y": {"field": "lo", "type": "quantitative", "scale": {"type": "log", "domain": [7.06, 3480], "nice": false}, "axis": {"values": [1000, 100, 10], "title": "Simple Regret", "labelExpr": "'10' + replace(replace(replace(replace(replace(replace(replace(replace('' + round(log(datum.value) / LN10), '-', '⁻'), '0', '⁰'), '1', '¹'), '2', '²'), '3', '³'), '4', '⁴'), '6', '⁶'), '8', '⁸')"}}, "y2": {"field": "hi"}}},
  {"mark": {"type": "line", "interpolate": "step-after", "strokeWidth": 1.8}, "encoding": {"y": {"field": "y", "type": "quantitative", "scale": {"type": "log", "domain": [7.06, 3480], "nice": false}, "axis": {"values": [1000, 100, 10], "title": "Simple Regret", "labelExpr": "'10' + replace(replace(replace(replace(replace(replace(replace(replace('' + round(log(datum.value) / LN10), '-', '⁻'), '0', '⁰'), '1', '¹'), '2', '²'), '3', '³'), '4', '⁴'), '6', '⁶'), '8', '⁸')"}}}}
 ]},
{"width": 286, "height": 166, "title": {"text": "Sum of Different Powers"},
 "transform": [{"filter": "datum.f === 'Sum of Different Powers'"}],
 "encoding": {
  "x": {"field": "x", "type": "quantitative", "scale": {"domain": [-17, 416], "nice": false, "zero": false}, "axis": {"values": [0, 200, 400], "title": "BO Iteration"}},
  "color": {"field": "s", "type": "nominal", "scale": {"domain": ["DE (crossover rate = 0.9)", "DE (popsize = 2)", "DE (popsize = 3)", "KSOS-BO"], "range": ["#d62728", "#9467bd", "#1f77b4", "#2ca02c"]}, "legend": {"orient": "none", "legendX": 4.6, "legendY": -60, "direction": "horizontal", "columns": 4, "title": null, "symbolType": "M-5,0H5", "symbolSize": 121, "symbolStrokeWidth": 2.8, "symbolOpacity": 1, "labelFont": "Liberation Serif", "labelFontSize": 19.5, "labelFontWeight": "bold", "labelColor": "black", "labelOffset": 32.6, "columnPadding": 37, "labelLimit": 400}}
 },
 "layer": [
  {"mark": {"type": "area", "interpolate": "step-after", "fillOpacity": 0.16}, "encoding": {"y": {"field": "lo", "type": "quantitative", "scale": {"type": "log", "domain": [4.19e-9, 3.72], "nice": false}, "axis": {"values": [1, 0.01, 0.0001, 1e-6, 1e-8], "title": "Simple Regret", "labelExpr": "'10' + replace(replace(replace(replace(replace(replace(replace(replace('' + round(log(datum.value) / LN10), '-', '⁻'), '0', '⁰'), '1', '¹'), '2', '²'), '3', '³'), '4', '⁴'), '6', '⁶'), '8', '⁸')"}}, "y2": {"field": "hi"}}},
  {"mark": {"type": "line", "interpolate": "step-after", "strokeWidth": 1.8}, "encoding": {"y": {"field": "y", "type": "quantitative", "scale": {"type": "log", "domain": [4.19e-9, 3.72], "nice": false}, "axis": {"values": [1, 0.01, 0.0001, 1e-6, 1e-8], "title": "Simple Regret", "labelExpr": "'10' + replace(replace(replace(replace(replace(replace(replace(replace('' + round(log(datum.value) / LN10), '-', '⁻'), '0', '⁰'), '1', '¹'), '2', '²'), '3', '³'), '4', '⁴'), '6', '⁶'), '8', '⁸')"}}}}
 ]}
], "spacing": 65.6, "bounds": "flush"}
],
"config": {
 "font": "Liberation Serif",
 "view": {"stroke": "black", "strokeWidth": 1.6},
 "title": {"font": "Liberation Serif", "fontSize": 20, "fontWeight": "bold", "color": "black", "anchor": "middle", "frame": "group", "baseline": "alphabetic", "offset": 4},
 "axis": {"grid": false, "domain": false, "tickColor": "black", "tickSize": 3, "labelColor": "black", "labelFont": "Liberation Serif", "titleFont": "Liberation Serif", "titleFontWeight": "bold", "titleFontSize": 15.5, "titleColor": "black", "labelOverlap": false},
 "axisX": {"labelFontSize": 15.5, "labelPadding": -1, "titleY": 25.5, "titleBaseline": "middle"},
 "axisY": {"labelFontSize": 14.5, "labelPadding": 1, "titleX": -35, "titleY": 83, "titleBaseline": "middle", "titleAlign": "center"}
}
}
